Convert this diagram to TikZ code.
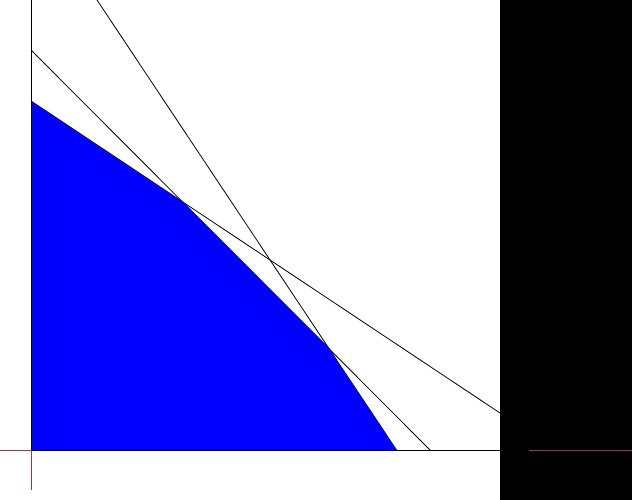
\documentclass[tikz,border=0pt]{standalone}
\definecolor{axisred}{RGB}{160,50,70}
\definecolor{regionblue}{RGB}{0,0,255}
\tikzset{
  guide/.style={draw=black, line width=0.8pt},
  axisline/.style={draw=black, line width=1pt},
  redaxis/.style={draw=axisred, line width=1pt},
  region/.style={fill=regionblue, draw=none},
}
\begin{document}
\begin{tikzpicture}[x=1pt,y=-1pt]
\useasboundingbox (0,0) rectangle (632,500);
\fill[white] (0,0) rectangle (500,500);
\fill[black] (500,0) rectangle (632,500);
% named points (pixel coordinates)
\coordinate (O) at (31,450);
\coordinate (Top) at (31,0);
\coordinate (Bot) at (31,490);
\coordinate (Left) at (0,450);
\coordinate (Right) at (500,450);
\coordinate (A) at (31,101);
\coordinate (B) at (183.3,202.3);
\coordinate (C) at (327.8,346.8);
\coordinate (D) at (396.5,450);
\coordinate (L1end) at (500,413);
\coordinate (L2start) at (31,50);
\coordinate (L2end) at (430,450);
\coordinate (L3start) at (97,0);
\coordinate (Rs) at (529,450);
\coordinate (Re) at (632,450);
% extended boundary lines
\draw[guide] (A) -- (L1end);
\draw[guide] (L2start) -- (L2end);
\draw[guide] (L3start) -- (D);
% feasible region
\fill[region] (O) -- (A) -- (B) -- (C) -- (D) -- cycle;
% axes
\draw[axisline] (Top) -- (O) -- (Right);
\draw[redaxis] (Left) -- (O) -- (Bot);
\draw[redaxis] (Rs) -- (Re);
\end{tikzpicture}
\end{document}
